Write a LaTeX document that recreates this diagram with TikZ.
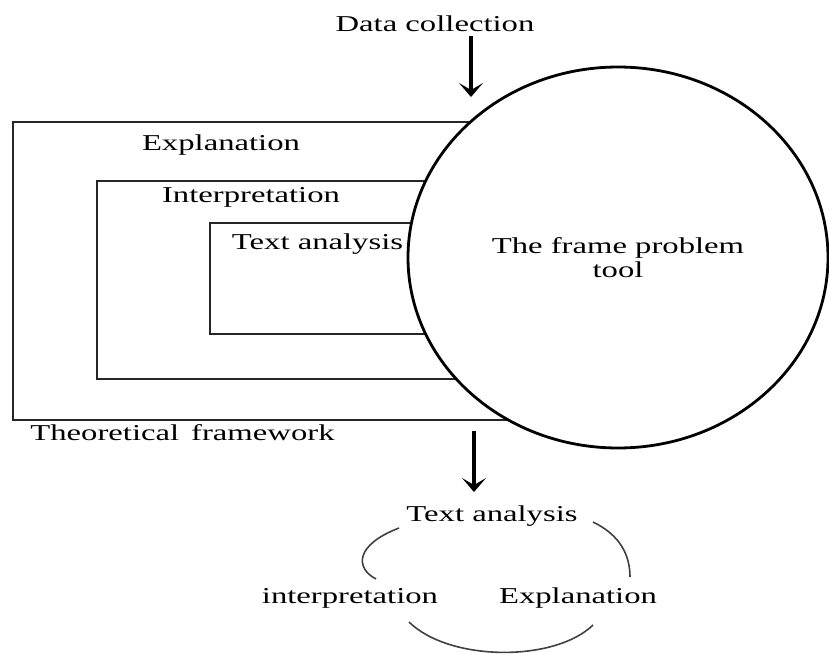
\documentclass[tikz,border=0pt]{standalone}
\usepackage{fontspec}
\setmainfont{Liberation Serif}[FakeStretch=1.44]
\usepackage{tikz}
\usetikzlibrary{arrows.meta}
\usetikzlibrary{shapes.geometric}
\tikzset{lbl/.style={inner sep=0pt,anchor=base,font=\fontsize{22.7}{24}\selectfont}}
\tikzset{frm/.style={draw=black!85,line width=1.5pt}}
\tikzset{bigarr/.style={line width=3.5pt,-{Stealth[length=14pt,width=24pt,inset=7pt]}}}
\tikzset{cyc/.style={draw=black!75,line width=1.6pt}}

\begin{document}
\begin{tikzpicture}[x=1pt,y=-1pt]
\useasboundingbox (0,0) rectangle (829,653);

\node[lbl] (dc) at (435,31) {Data collection};
\coordinate (dctop) at (471,36);
\coordinate (dcbot) at (471,97);
\draw[bigarr] (dctop) -- (dcbot);

% nested frames, right sides hidden under the tool
\draw[frm] (13,122) rectangle (520,420);
\draw[frm] (97,181) rectangle (520,379);
\draw[frm] (210,223) rectangle (520,334);
\node[lbl] (expl) at (221,150) {Explanation};
\node[lbl] (interp) at (251,202) {Interpretation};
\node[lbl] (ta) at (317.5,249) {Text analysis};
\node[lbl] (theo) at (182.5,440) {Theoretical\, framework};

\node[ellipse, draw, fill=white, line width=2.8pt, minimum width=420pt, minimum height=381pt,
  inner sep=0pt, align=center, font=\fontsize{22.7}{24}\selectfont] (tool) at (618,257.5) {The frame problem\\tool};

\coordinate (outtop) at (474,431);
\coordinate (outbot) at (474,492);
\draw[bigarr] (outtop) -- (outbot);

% the cycle
\node[lbl] (ta2) at (492,521) {Text analysis};
\node[lbl] (interp2) at (350,603) {interpretation};
\node[lbl] (expl2) at (578,603) {Explanation};
\draw[cyc] (399,528) .. controls (355,545) and (355,568) .. (376,579);
\draw[cyc] (593,522) .. controls (620,535) and (630,555) .. (630,577);
\draw[cyc] (409,622) .. controls (450,662) and (555,662) .. (593,625);

\end{tikzpicture}
\end{document}
